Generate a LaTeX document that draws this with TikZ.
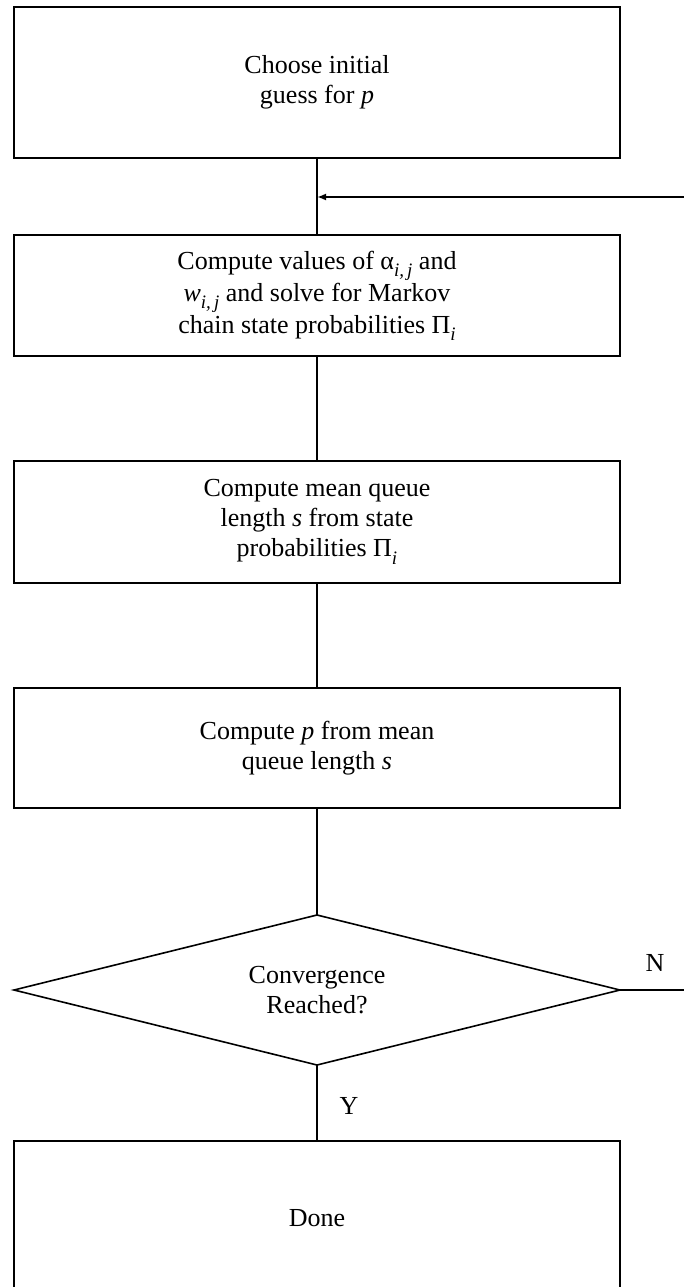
\documentclass[tikz,border=0pt]{standalone}
\usepackage{fontspec}
\setmainfont{Liberation Serif}
\usetikzlibrary{arrows.meta}
\newcommand{\sbs}[1]{\raisebox{-0.28em}{\fontsize{19}{19}\selectfont\itshape #1}}
\begin{document}
\begin{tikzpicture}[x=1pt,y=-1pt,
  every node/.style={font=\fontsize{26}{30}\selectfont},
  stepbox/.style={draw,line width=1.9pt,rectangle,minimum width=606pt,inner sep=0pt,align=center},
  dtext/.style={inner sep=0pt,align=center},
  conn/.style={line width=1.9pt},
  lbl/.style={inner sep=0pt}]
\useasboundingbox (0,0) rectangle (684,1287);
\node[stepbox,minimum height=151pt] (b1) at (317,82.5) {Choose initial\\guess for \textit{p}};
\node[stepbox,minimum height=121pt] (b2) at (317,295.5) {Compute values of α\sbs{i,\,j} and\\[2pt]\textit{w}\sbs{i,\,j} and solve for Markov\\[2pt]chain state probabilities Π\sbs{i}};
\node[stepbox,minimum height=122pt] (b3) at (317,522) {Compute mean queue\\length \textit{s} from state\\probabilities Π\sbs{i}};
\node[stepbox,minimum height=120pt] (b4) at (317,748) {Compute \textit{p} from mean\\queue length \textit{s}};
\node[dtext] (d) at (317,990) {Convergence\\Reached?};
\coordinate (dN) at (317,915);
\coordinate (dS) at (317,1065);
\coordinate (dW) at (14,990);
\coordinate (dE) at (620,990);
\draw[line width=1.6pt,line join=miter] (dN) -- (dE) -- (dS) -- (dW) -- cycle;
\node[stepbox,minimum height=154pt] (b5) at (317,1218) {Done};
\coordinate (fb) at (684,197);
\coordinate (nend) at (684,990);
\draw[conn] (b1.south) -- (b2.north);
\draw[conn,-{Latex[length=9pt,width=7pt]}] (fb) -- (fb -| b1.south);
\draw[conn] (b2.south) -- (b3.north);
\draw[conn] (b3.south) -- (b4.north);
\draw[conn] (b4.south) -- (dN);
\draw[conn] (dS) -- (b5.north);
\draw[conn] (dE) -- (nend);
\node[lbl] (n) at (655,963) {N};
\node[lbl] (y) at (349,1106) {Y};
\end{tikzpicture}
\end{document}
